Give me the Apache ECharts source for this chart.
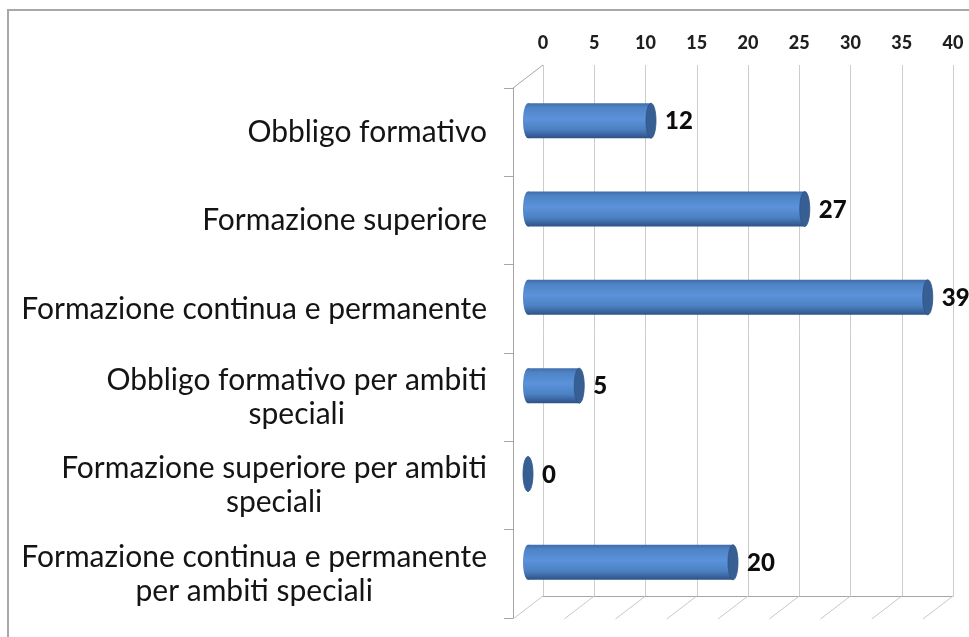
<!DOCTYPE html>
<html>
<head>
<meta charset="utf-8">
<script src="https://cdn.jsdelivr.net/npm/echarts@6/dist/echarts.min.js"></script>
<style>
  html, body { margin: 0; padding: 0; background: #fff; }
  #chart { width: 969px; height: 637px; }
</style>
</head>
<body>
<div id="chart"></div>
<script>
// data
const categories = [
  'Obbligo formativo',
  'Formazione superiore',
  'Formazione continua e permanente',
  'Obbligo formativo per ambiti\nspeciali',
  'Formazione superiore per ambiti\nspeciali',
  'Formazione continua e permanente\nper ambiti speciali'
]
const values = [12, 27, 39, 5, 0, 20]
const tickValues = [0, 5, 10, 15, 20, 25, 30, 35, 40]

const labelFont = 'Lato, "Open Sans", sans-serif'
const depthX = -30
const depthY = 23

const chart = echarts.init(document.getElementById('chart'))

// cylinder bars drawn on the middle (half depth) grid
function renderBar(params, api) {
  const v = api.value(0)
  const cat = api.value(1)
  const start = api.coord([0, cat])
  const end = api.coord([v, cat])
  const h = 35
  const rx = 5
  const top = start[1] - h / 2
  const bodyFill = new echarts.graphic.LinearGradient(0, 0, 0, 1, [
    { offset: 0, color: '#3f6ca8' },
    { offset: 0.12, color: '#4e83c6' },
    { offset: 0.45, color: '#5b92da' },
    { offset: 0.75, color: '#4c80c2' },
    { offset: 1, color: '#2d5286' }
  ])
  const children = []
  if (v > 0) {
    children.push({
      type: 'ellipse',
      shape: { cx: start[0], cy: start[1], rx: rx, ry: h / 2 },
      style: { fill: bodyFill }
    })
    children.push({
      type: 'rect',
      shape: { x: start[0], y: top, width: end[0] - start[0], height: h },
      style: { fill: bodyFill }
    })
  }
  children.push({
    type: 'ellipse',
    shape: { cx: end[0], cy: end[1], rx: rx, ry: h / 2 },
    style: { fill: '#385f94', stroke: '#2f5384', lineWidth: 0.8 }
  })
  children.push({
    type: 'text',
    style: {
      text: String(v),
      x: end[0] + rx + 9,
      y: end[1] + 1,
      verticalAlign: 'middle',
      align: 'left',
      font: '900 24px ' + labelFont,
      fill: '#0d0d0d'
    }
  })
  return { type: 'group', children: children }
}

// perspective floor lines from the back wall towards the front
function renderFloor(params, api) {
  const v = api.value(0)
  const p = api.coord([v, 0])
  const lineStyle = { stroke: '#c8c8c8', lineWidth: 1 }
  const children = [{
    type: 'line',
    shape: { x1: p[0], y1: p[1], x2: p[0] + depthX, y2: p[1] + depthY },
    style: lineStyle
  }]
  if (v === 0) {
    const q = api.coord([0, 1])
    children.push({
      type: 'line',
      shape: { x1: q[0], y1: q[1], x2: q[0] + depthX, y2: q[1] + depthY },
      style: { stroke: '#a6a6a6', lineWidth: 1 }
    })
  }
  return { type: 'group', children: children }
}

const option = {
  animation: false,
  graphic: [{
    type: 'rect',
    shape: { x: 8, y: 10, width: 1000, height: 700 },
    style: { fill: 'none', stroke: '#a8a8a8', lineWidth: 2 },
    z: -1
  }],
  grid: [
    { left: 543, right: 16, top: 65, bottom: 41 },
    { left: 513, right: 46, top: 88, bottom: 19 },
    { left: 528, right: 31, top: 76.5, bottom: 30.5 }
  ],
  xAxis: [
    {
      gridIndex: 0,
      type: 'value',
      position: 'top',
      min: 0,
      max: 40,
      interval: 5,
      axisLine: { show: true, lineStyle: { color: '#a6a6a6' } },
      axisTick: { show: false },
      splitLine: { show: true, lineStyle: { color: '#cccccc' } },
      axisLabel: {
        margin: 13,
        fontFamily: labelFont,
        fontWeight: 900,
        fontSize: 18,
        color: '#1f1f1f'
      }
    },
    { gridIndex: 1, type: 'value', min: 0, max: 40, show: false },
    { gridIndex: 2, type: 'value', min: 0, max: 40, show: false }
  ],
  yAxis: [
    { gridIndex: 0, type: 'value', min: 0, max: 1, show: false },
    {
      gridIndex: 1,
      type: 'category',
      inverse: true,
      data: categories,
      axisLine: { show: true, lineStyle: { color: '#a6a6a6' } },
      axisTick: { show: true, length: 9, lineStyle: { color: '#a6a6a6' } },
      splitLine: { show: false },
      axisLabel: {
        margin: 26,
        align: 'right',
        formatter: function (val) {
          return val.split('\n').map(function (s) { return '{c|' + s + '}' }).join('\n')
        },
        rich: {
          c: {
            align: 'center',
            fontFamily: labelFont,
            fontSize: 30,
            lineHeight: 34,
            color: '#141414'
          }
        }
      }
    },
    { gridIndex: 2, type: 'category', inverse: true, data: categories, show: false }
  ],
  series: [
    {
      type: 'custom',
      xAxisIndex: 0,
      yAxisIndex: 0,
      renderItem: renderFloor,
      data: tickValues.map(function (v) { return [v, 0] }),
      silent: true,
      z: 1
    },
    {
      type: 'custom',
      xAxisIndex: 2,
      yAxisIndex: 2,
      renderItem: renderBar,
      encode: { x: 0, y: 1 },
      data: values.map(function (v, i) { return [v, i] }),
      z: 5
    }
  ]
}

chart.setOption(option)
window.addEventListener('resize', () => {
  chart.resize()
})
</script>
</body>
</html>
